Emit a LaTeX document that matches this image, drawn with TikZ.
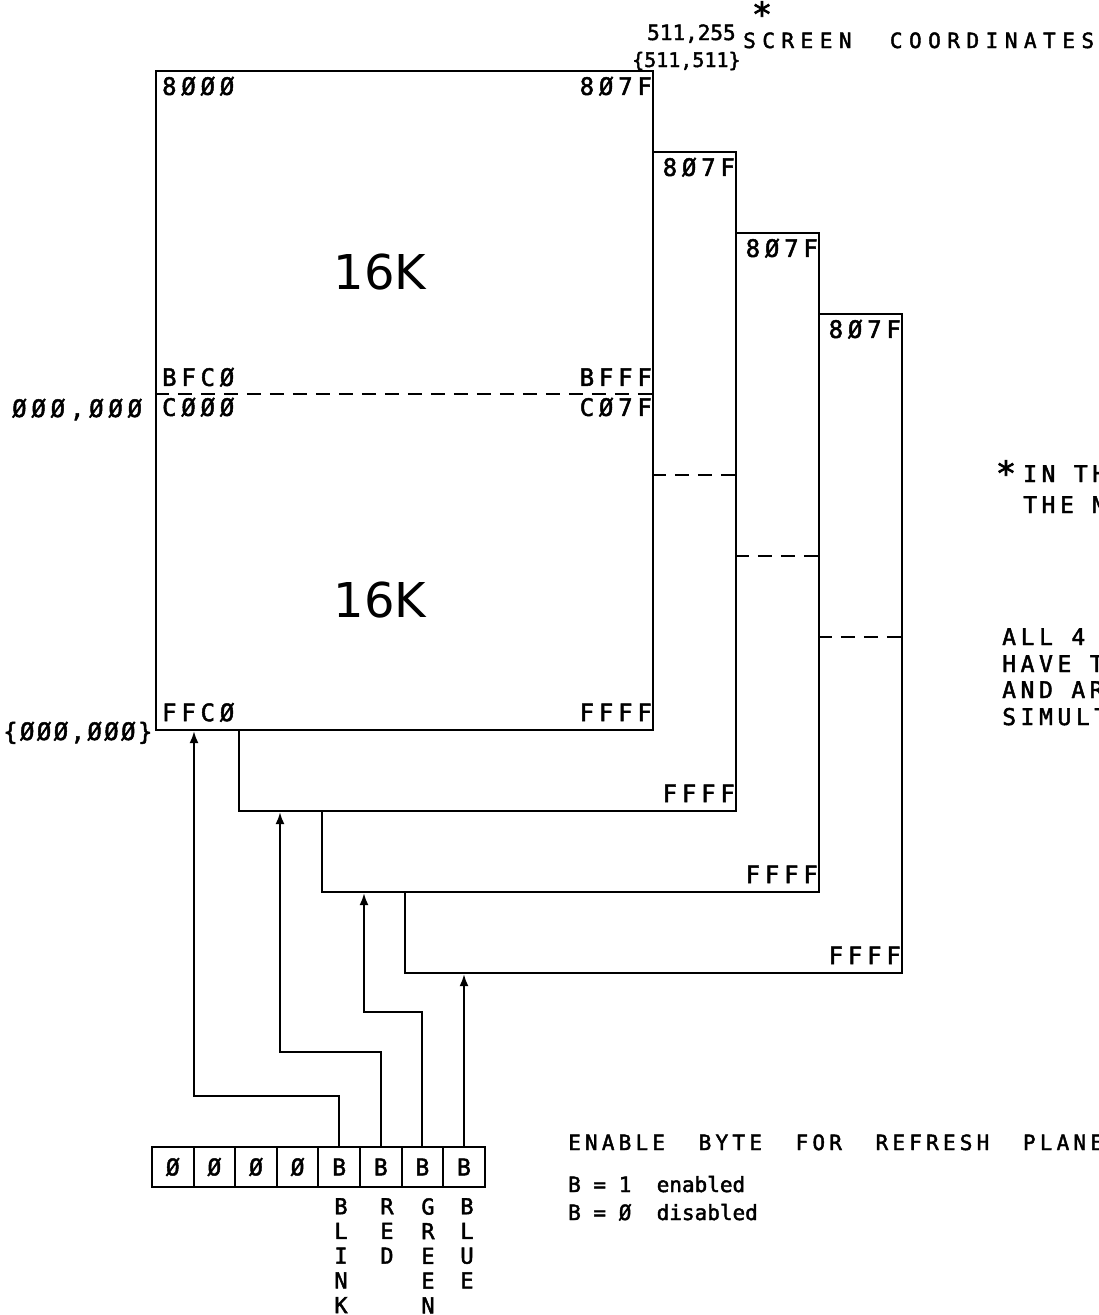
\documentclass[tikz,border=0pt]{standalone}
\usepackage{fontspec}
\setmainfont{DejaVu Sans Mono}[LetterSpace=20,FakeBold=2]
\newfontfamily\monoA{DejaVu Sans Mono}[LetterSpace=10,FakeBold=2]
\newfontfamily\monoB{DejaVu Sans Mono}[FakeBold=2]
\newfontfamily\monoC{DejaVu Sans Mono}[LetterSpace=31,FakeBold=2]
\newfontfamily\bigfont{DejaVu Sans}
\usetikzlibrary{arrows.meta,calc}
\begin{document}
\begin{tikzpicture}[x=1pt,y=-1pt,
  plane/.style={draw,line width=2.2pt,fill=white,minimum width=497pt,minimum height=659pt,inner sep=0pt},
  lbl/.style={inner sep=0pt,font=\fontsize{24}{26}\selectfont},
  txt/.style={inner sep=0pt,anchor=base west,font=\fontsize{21}{26.5}\selectfont},
  big/.style={inner sep=0pt,font=\bigfont\fontsize{48}{50}\selectfont},
  cell/.style={draw,line width=2pt,minimum width=41.6pt,minimum height=40pt,inner sep=0pt,font=\monoB\fontsize{23}{24}\selectfont},
  vert/.style={inner sep=0pt,anchor=north,align=center,font=\monoB\fontsize{22}{24.7}\selectfont},
  wire/.style={line width=2pt},
  arr/.style={wire,-{Latex[length=12pt,width=9pt]}},
  dsh/.style={line width=1.8pt,dash pattern=on 14pt off 9pt},
  starn/.style={inner sep=0pt,anchor=north,font=\monoB\fontsize{34}{36}\selectfont}
]
\useasboundingbox (0,0) rectangle (1099,1315);

% plane 4
\node[plane] (p4) at (653.5,643.5) {};
\draw[dsh] ($(p4.north west)+(0,324)$) -- ($(p4.north east)+(0,324)$);
\node[lbl,anchor=base east] (p4t) at ($(p4.north east)+(-2,25)$) {8Ø7F};
\node[lbl,anchor=base east] (p4b) at ($(p4.south east)+(-2,-10)$) {FFFF};
% plane 3
\node[plane] (p3) at (570.5,562.5) {};
\draw[dsh] ($(p3.north west)+(0,324)$) -- ($(p3.north east)+(0,324)$);
\node[lbl,anchor=base east] (p3t) at ($(p3.north east)+(-2,25)$) {8Ø7F};
\node[lbl,anchor=base east] (p3b) at ($(p3.south east)+(-2,-10)$) {FFFF};
% plane 2
\node[plane] (p2) at (487.5,481.5) {};
\draw[dsh] ($(p2.north west)+(0,324)$) -- ($(p2.north east)+(0,324)$);
\node[lbl,anchor=base east] (p2t) at ($(p2.north east)+(-2,25)$) {8Ø7F};
\node[lbl,anchor=base east] (p2b) at ($(p2.south east)+(-2,-10)$) {FFFF};
% plane 1
\node[plane] (p1) at (404.5,400.5) {};
\draw[dsh] ($(p1.north west)+(0,324)$) -- ($(p1.north east)+(0,324)$);
\node[lbl,anchor=base west] (a8000) at ($(p1.north west)+(7,25)$) {8ØØØ};
\node[lbl,anchor=base east] (a807F) at ($(p1.north east)+(-2,25)$) {8Ø7F};
\node[lbl,anchor=base west] (aBFC0) at ($(p1.north west)+(7,316)$) {BFCØ};
\node[lbl,anchor=base east] (aBFFF) at ($(p1.north east)+(-2,316)$) {BFFF};
\node[lbl,anchor=base west] (aC000) at ($(p1.north west)+(7,346)$) {CØØØ};
\node[lbl,anchor=base east] (aC07F) at ($(p1.north east)+(-2,346)$) {CØ7F};
\node[lbl,anchor=base west] (aFFC0) at ($(p1.south west)+(7,-10)$) {FFCØ};
\node[lbl,anchor=base east] (aFFFF) at ($(p1.south east)+(-2,-10)$) {FFFF};
\node[big] (k16a) at (380,272) {16K};
\node[big] (k16b) at (380,600) {16K};

% left labels
\node[lbl,anchor=base west] (orig1) at (12,417) {ØØØ,ØØØ};
\node[lbl,anchor=base west,font=\monoA\fontsize{24}{26}\selectfont] (orig2) at (3,740) {\{ØØØ,ØØØ\}};

% top labels
\node[txt,font=\monoB\fontsize{21}{26}\selectfont] (s1) at (647,40) {511,255};
\node[starn] (star1) at (762,1) {*};
\node[txt,font=\monoB\fontsize{20}{26}\selectfont] (s2) at (632,67) {\{511,511\}};
\node[txt,font=\monoC\fontsize{21}{26}\selectfont] (s3) at (743,48) {SCREEN~ COORDINATES};

% right notes
\node[starn] (star2) at (1006,460) {*};
\node[txt,font=\fontsize{23}{26}\selectfont] (n1) at (1023,482) {IN THE};
\node[txt,font=\fontsize{23}{26}\selectfont] (n2) at (1023,513) {THE M};
\node[txt,font=\fontsize{23}{26}\selectfont] (n3) at (1002,645) {ALL 4};
\node[txt,font=\fontsize{23}{26}\selectfont] (n4) at (1002,672) {HAVE T};
\node[txt,font=\fontsize{23}{26}\selectfont] (n5) at (1002,698) {AND AR};
\node[txt,font=\fontsize{23}{26}\selectfont] (n6) at (1002,725) {SIMULT};

% enable byte
\node[cell] (c1) at ({152+41.6*0.5},1167) {Ø};
\node[cell] (c2) at ({152+41.6*1.5},1167) {Ø};
\node[cell] (c3) at ({152+41.6*2.5},1167) {Ø};
\node[cell] (c4) at ({152+41.6*3.5},1167) {Ø};
\node[cell] (c5) at ({152+41.6*4.5},1167) {B};
\node[cell] (c6) at ({152+41.6*5.5},1167) {B};
\node[cell] (c7) at ({152+41.6*6.5},1167) {B};
\node[cell] (c8) at ({152+41.6*7.5},1167) {B};

\node[vert] (v1) at (341,1198) {B\\L\\I\\N\\K};
\node[vert] (v2) at (387,1198) {R\\E\\D};
\node[vert] (v3) at (428,1198) {G\\R\\E\\E\\N};
\node[vert] (v4) at (467,1198) {B\\L\\U\\E};

\node[txt] (e1) at (568,1150) {ENABLE~ BYTE~ FOR~ REFRESH~ PLANES};
\node[txt,font=\monoB\fontsize{21}{26}\selectfont] (e2) at (568,1192) {B = 1~ enabled};
\node[txt,font=\monoB\fontsize{21}{26}\selectfont] (e3) at (568,1220) {B = Ø~ disabled};

% connectors
\coordinate (k1) at (194,1096);
\coordinate (k2) at (280,1052);
\coordinate (k3) at (364,1012);
\draw[arr] (c5.north) |- (k1) -- (k1 |- p1.south);
\draw[arr] (c6.north) |- (k2) -- (k2 |- p2.south);
\draw[arr] (c7.north) |- (k3) -- (k3 |- p3.south);
\draw[arr] (c8.north) -- (c8.north |- p4.south);
\end{tikzpicture}
\end{document}
